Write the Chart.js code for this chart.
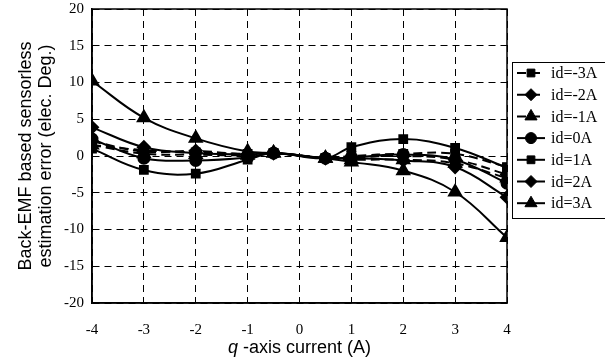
<!DOCTYPE html>
<html>
<head>
<meta charset="utf-8">
<script src="https://cdn.jsdelivr.net/npm/chart.js@4/dist/chart.umd.min.js"></script>
<style>
  html, body { margin: 0; padding: 0; background: #fff; }
  #wrap { width: 605px; height: 364px; position: relative; }
</style>
</head>
<body>
<div id="wrap"><canvas id="emfChart"></canvas></div>
<script>
// q-axis current sample points (A)
const qCurrent = [-4, -3, -2, -1, -0.5, 0.5, 1, 2, 3, 4];
const yTicks = [-20, -15, -10, -5, 0, 5, 10, 15, 20];
const xTicks = [-4, -3, -2, -1, 0, 1, 2, 3, 4];

const seriesLabels = ['id=-3A', 'id=-2A', 'id=-1A', 'id=0A', 'id=1A', 'id=2A', 'id=3A'];
const errIdM3 = [1.5, 0.8, 0.5, 0.3, 0.4, -0.3, 0.0, 0.3, 0.3, -1.5];
const errIdM2 = [2.0, 0.6, 0.7, 0.2, 0.4, -0.3, -0.2, 0.0, -0.5, -2.5];
const errIdM1 = [1.5, 0.3, 0.2, 0.1, 0.4, -0.3, -0.5, -0.5, -1.0, -3.0];
const errId0  = [2.3, -0.3, -0.6, -0.2, 0.4, -0.3, -0.2, 0.2, -0.5, -3.7];
const errId1  = [1.0, -1.9, -2.4, -0.5, 0.4, -0.3, 1.2, 2.3, 1.1, -1.6];
const errId2  = [3.9, 1.2, 0.4, 0.2, 0.4, -0.3, -0.3, -0.6, -1.5, -5.6];
const errId3  = [10.2, 5.2, 2.4, 0.6, 0.4, -0.3, -0.8, -2.0, -4.9, -11.1];

const seriesValues = [errIdM3, errIdM2, errIdM1, errId0, errId1, errId2, errId3];
const markers = ['rect', 'rectRot', 'triangle', 'circle', 'rect', 'rectRot', 'triangle'];
const markerSize = { rect: 5.5, rectRot: 6, triangle: 7, circle: 5.5 };

const datasets = seriesValues.map((vals, i) => ({
    label: seriesLabels[i],
    data: vals.map((v, k) => ({ x: qCurrent[k], y: v })),
    borderColor: '#000',
    backgroundColor: '#000',
    borderWidth: 2,
    borderDash: i < 3 ? [9, 5] : [],
    pointStyle: markers[i],
    pointRadius: markerSize[markers[i]],
    pointBackgroundColor: '#000',
    pointBorderColor: '#000',
    tension: 0.4
}));

// frame, axis titles and the boxed legend
const decorations = {
    id: 'decorations',
    afterDraw(chart) {
        const ctx = chart.ctx;
        const a = chart.chartArea;
        ctx.save();
        ctx.strokeStyle = '#000';
        ctx.fillStyle = '#000';
        ctx.lineWidth = 1.5;
        ctx.setLineDash([]);
        ctx.strokeRect(a.left, a.top, a.right - a.left, a.bottom - a.top);

        // x axis title with italic q
        ctx.textBaseline = 'alphabetic';
        ctx.textAlign = 'left';
        const rest = '-axis current (A)';
        ctx.font = 'italic 18px "Liberation Sans"';
        const qw = ctx.measureText('q').width + 5;
        ctx.font = '18px "Liberation Sans"';
        const rw = ctx.measureText(rest).width;
        const cx = (a.left + a.right) / 2;
        const sx = cx - (qw + rw) / 2;
        ctx.font = 'italic 18px "Liberation Sans"';
        ctx.fillText('q', sx, 353);
        ctx.font = '18px "Liberation Sans"';
        ctx.fillText(rest, sx + qw, 353);

        // y axis title (two lines)
        ctx.save();
        ctx.translate(0, (a.top + a.bottom) / 2);
        ctx.rotate(-Math.PI / 2);
        ctx.textAlign = 'center';
        ctx.font = '18px "Liberation Sans"';
        ctx.fillText('Back-EMF based sensorless', 0, 31);
        ctx.fillText('estimation error (elec. Deg.)', 0, 51);
        ctx.restore();

        // legend
        const lx = 512, ly = 62, rowH = 21.7;
        ctx.lineWidth = 1;
        ctx.strokeRect(lx + 0.5, ly + 0.5, 100, 156);
        chart.data.datasets.forEach((ds, i) => {
            const y = ly + 11 + i * rowH;
            ctx.lineWidth = 2;
            ctx.setLineDash(ds.borderDash.length ? [9, 5] : []);
            ctx.beginPath();
            ctx.moveTo(lx + 5, y);
            ctx.lineTo(lx + 33, y);
            ctx.stroke();
            ctx.setLineDash([]);
            ctx.lineWidth = 1;
            Chart.helpers.drawPoint(ctx, {
                pointStyle: ds.pointStyle,
                radius: ds.pointRadius,
                borderWidth: 1,
                rotation: 0
            }, lx + 19, y);
            ctx.font = '16px "Liberation Serif"';
            ctx.textAlign = 'left';
            ctx.textBaseline = 'middle';
            ctx.fillText(ds.label, lx + 39, y + 1);
        });
        ctx.restore();
    }
};

new Chart(document.getElementById('emfChart'), {
    type: 'line',
    data: { datasets },
    plugins: [decorations],
    options: {
        responsive: true,
        maintainAspectRatio: false,
        animation: false,
        layout: { padding: { left: 0, right: 98, top: 8, bottom: 0 } },
        plugins: { legend: { display: false }, tooltip: { enabled: false } },
        scales: {
            x: {
                type: 'linear',
                min: -4,
                max: 4,
                afterBuildTicks: s => { s.ticks = xTicks.map(v => ({ value: v })); },
                afterFit: s => { s.height = 61; s.paddingLeft = 0; s.paddingRight = 0; },
                grid: { color: '#000', lineWidth: 1, drawTicks: false },
                border: { display: true, color: '#000', width: 1.5, dash: [7, 5] },
                ticks: {
                    color: '#000',
                    padding: 18,
                    maxRotation: 0,
                    font: { family: 'Liberation Serif', size: 15 }
                }
            },
            y: {
                min: -20,
                max: 20,
                afterBuildTicks: s => { s.ticks = yTicks.map(v => ({ value: v })); },
                afterFit: s => { s.width = 92; s.paddingTop = 0; s.paddingBottom = 0; },
                grid: { color: '#000', lineWidth: 1, drawTicks: false },
                border: { display: true, color: '#000', width: 1.5, dash: [7, 5] },
                ticks: {
                    color: '#000',
                    padding: 8,
                    font: { family: 'Liberation Serif', size: 15 }
                }
            }
        }
    }
});
</script>
</body>
</html>
